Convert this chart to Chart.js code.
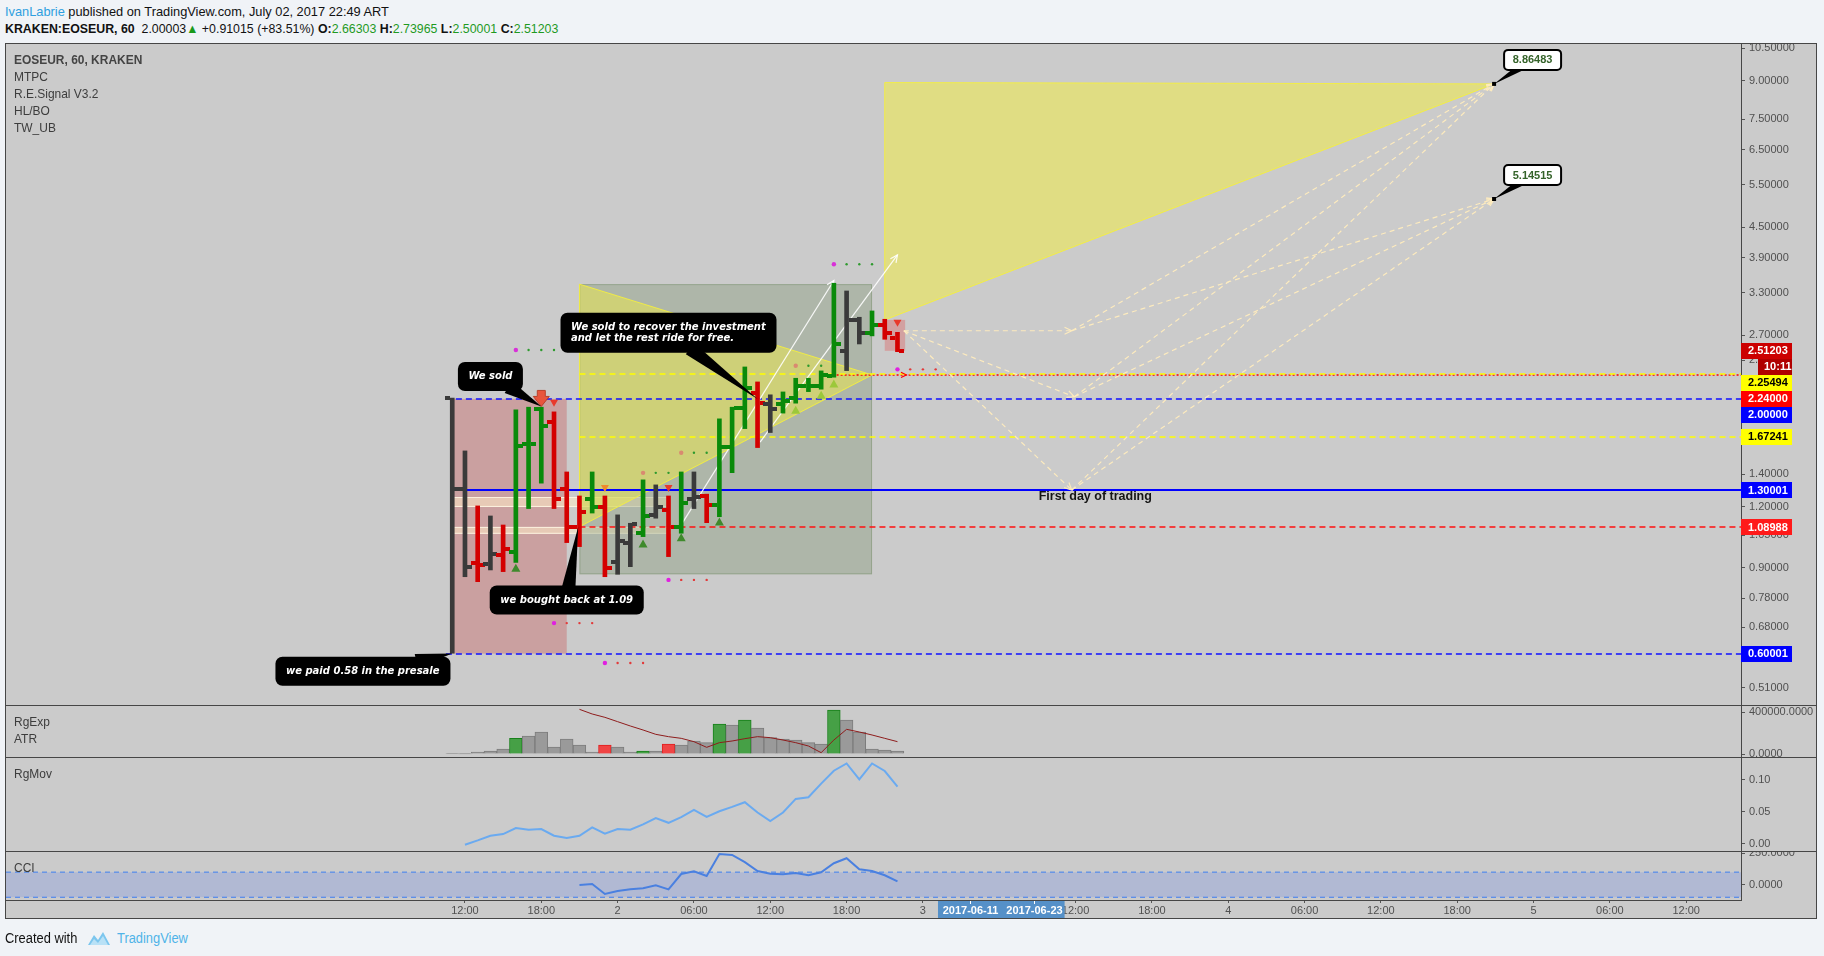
<!DOCTYPE html>
<html>
<head>
<meta charset="utf-8">
<title>KRAKEN:EOSEUR, 60</title>
<script src="https://cdn.jsdelivr.net/npm/chart.js@4.4.1/dist/chart.umd.min.js"></script>
<style>
  body { margin:0; width:1824px; height:956px; background:#f0f3f7; overflow:hidden; position:relative;
         font-family:"Liberation Sans Narrow","Liberation Sans",Arial,sans-serif; color:#111; }
  .txt { position:absolute; font-size:13px; line-height:16px; white-space:nowrap; transform-origin:0 0; }
  .g { color:#1f9a1f; }
  #frame { position:absolute; left:5px; top:43px; width:1810px; height:874px; border:1px solid #464646; background:#cbcbcb; }
  #frame canvas { position:absolute; left:0; }
  .sep { position:absolute; left:0; width:1810px; height:1px; background:#464646; }
  .lbl { position:absolute; left:8px; font-size:13px; line-height:16px; color:#3d3d3d; white-space:nowrap;
         transform:scaleX(0.92); transform-origin:0 0; }
</style>
</head>
<body>
<div class="txt" style="left:5px;top:4px;transform:scaleX(0.985)"><span style="color:#2e9fe0">IvanLabrie</span> published on TradingView.com, July 02, 2017 22:49 ART</div>
<div class="txt" style="left:5px;top:21px;transform:scaleX(0.95)"><b>KRAKEN:EOSEUR, 60</b>&nbsp; 2.00003<span style="color:#1a9a1a">&#9650;</span> +0.91015 (+83.51%) <b>O:</b><span class="g">2.66303</span> <b>H:</b><span class="g">2.73965</span> <b>L:</b><span class="g">2.50001</span> <b>C:</b><span class="g">2.51203</span></div>

<div id="frame">
  <canvas id="cMain" width="1810" height="661" style="top:0"></canvas>
  <canvas id="cExp" width="1810" height="52" style="top:661px"></canvas>
  <canvas id="cMov" width="1810" height="94" style="top:713px"></canvas>
  <canvas id="cCci" width="1810" height="67" style="top:807px"></canvas>
  <div class="sep" style="top:661px"></div>
  <div class="sep" style="top:713px"></div>
  <div class="sep" style="top:807px"></div>
  <div class="lbl" style="top:8px;font-weight:bold;color:#444">EOSEUR, 60, KRAKEN</div>
  <div class="lbl" style="top:25px">MTPC</div>
  <div class="lbl" style="top:42px">R.E.Signal V3.2</div>
  <div class="lbl" style="top:59px">HL/BO</div>
  <div class="lbl" style="top:76px">TW_UB</div>
  <div class="lbl" style="top:670px">RgExp</div>
  <div class="lbl" style="top:687px">ATR</div>
  <div class="lbl" style="top:722px">RgMov</div>
  <div class="lbl" style="top:816px">CCI</div>
</div>

<div class="txt" style="left:5px;top:930px;font-size:14px;transform:scaleX(0.92)">Created with</div>
<svg style="position:absolute;left:87px;top:930px" width="24" height="16" viewBox="0 0 24 16">
  <path d="M1 15 L7 5 L11 10 L16 2 L23 15 Z" fill="#7cc6ee"/>
  <path d="M3 15 L7 9 L11 13 L16 6 L21 15 Z" fill="#b9e1f6"/>
</svg>
<div class="txt" style="left:117px;top:930px;font-size:14px;color:#4fb3e8;transform:scaleX(0.92)">TradingView</div>

<script>
// ---- time axis (hours from 2017-07-01 00:00) ----
const X_MIN = -24.08, X_MAX = 112.31;
const xTickHours  = [12, 18, 24, 30, 36, 42, 48, 54, 60, 66, 72, 78, 84, 90, 96, 102, 108];
const xTickLabels = ['12:00','18:00','2','06:00','12:00','18:00','3','06:00','12:00','18:00','4','06:00','12:00','18:00','5','06:00','12:00'];
const dateMarkHours = [51.7, 56.7];
const dateMarkLabels = ['2017-06-11', '2017-06-23'];

// ---- hourly OHLC bars ----
const barHours = [11,12,13,14,15,16,17,18,19,20,21,22,23,24,25,26,27,28,29,30,31,32,33,34,35,36,37,38,39,40,41,42,43,44,45,46];
const opens  = [2.007,1.305,0.920,0.916,0.956,0.971,1.617,1.905,1.797,1.305,1.093,1.245,1.199,0.927,1.014,1.063,1.156,1.184,1.093,1.245,1.264,1.212,1.592,1.914,2.055,1.953,1.953,2.013,2.130,2.130,2.233,2.512,2.905,2.728,2.837,2.66303];
const highs  = [2.007,1.564,1.206,1.150,1.102,1.899,1.923,1.923,1.881,1.416,1.264,1.416,1.264,1.156,1.111,1.364,1.332,1.264,1.416,1.416,1.275,1.820,1.923,2.326,2.167,2.039,2.067,2.205,2.205,2.283,3.455,3.331,2.942,3.031,2.914,2.73965];
const lows   = [0.601,0.863,0.843,0.891,0.884,0.923,1.191,1.343,1.191,1.014,0.995,1.166,0.863,0.873,0.905,1.043,1.138,0.949,1.060,1.191,1.114,1.146,1.411,1.738,1.589,1.706,1.870,1.960,2.070,2.094,2.216,2.286,2.593,2.694,2.651,2.50001];
const closes = [1.305,0.903,0.910,0.959,0.983,1.604,1.617,1.760,1.245,1.093,1.174,1.199,0.899,1.023,1.106,1.152,1.202,1.090,1.225,1.257,1.212,1.592,1.914,2.110,1.966,1.910,1.979,2.130,2.130,2.240,2.589,2.905,2.728,2.837,2.736,2.51203];
const barSignal = ['n','n','d','n','d','u','u','u','d','d','d','u','d','n','n','u','n','d','u','n','d','u','u','u','d','n','u','u','u','u','u','n','n','u','d','d'];

// ---- price axis ----
const yTickValues = [10.5, 9, 7.5, 6.5, 5.5, 4.5, 3.9, 3.3, 2.7, 2.4, 2.1, 1.85, 1.65, 1.4, 1.2, 1.05, 0.9, 0.78, 0.68, 0.6, 0.51];
const yTickLabels = ['10.50000','9.00000','7.50000','6.50000','5.50000','4.50000','3.90000','3.30000','2.70000','2.40000','2.10000','1.85000','1.65000','1.40000','1.20000','1.05000','0.90000','0.78000','0.68000','0.60000','0.51000'];
const levelValues = [2.24, 2.25494, 2.0, 1.67241, 1.30001, 1.08988, 0.60001];
const levelStart  = [40.9, 21, 10.5, 21, 11, 21, 10.5];
const levelKind   = ['redDot', 'yellow', 'blue', 'yellow', 'blueSolid', 'red', 'blue'];
const lastPrice = 2.51203;
const countdown = '10:11';

// ---- drawings (hour, price) ----
const presaleZone = [11, 20, 0.60001, 2.0];
const rangeBands = [[11, 27.9, 1.200, 1.258], [11, 28.2, 1.057, 1.092]];
const channelBox = [21, 44, 0.873, 3.44];
const wedgeSmall = [[21, 3.44], [21, 1.093], [44, 2.24]];
const wedgeBig = [[45, 8.92], [45, 2.905], [92.9, 8.86483]];
const lastZone = [45, 46.6, 2.51, 2.905];
const whiteArrows = [[[28.9, 1.092], [41, 3.50]], [[35.2, 1.63], [46, 3.95]]];
const projStart = [46.5, 2.76];
const projMid = [[59.7, 2.76], [59.9, 2.02], [59.7, 1.30]];
const targetHour = 92.9;
const targetValues = [8.86483, 5.14515];
const firstDay = ['First day of trading', 57.1, 1.258];

const sellArrow = [18, 1.93];
const sellMarks = [[19, 1.96], [28, 1.31], [46, 2.86]];
const warnMarks = [[23, 1.31]];
const buyMarks = [[16, 0.90], [26, 1.01], [29, 1.04], [32, 1.12]];
const weakBuyMarks = [[38, 1.90], [40, 2.04], [41, 2.15]];
const pivotUp = [[16, 2.52], [41, 3.78]];
const pivotDown = [[19, 0.693], [23, 0.574], [28, 0.85], [46, 2.30]];
const pivotMid = [[26, 1.41], [29, 1.55], [38, 2.34]];

const notes = [
  { lines: ['We sold'], at: [14.0, 2.224], to: [18, 1.93] },
  { lines: ['We sold to recover the investment', 'and let the rest ride for free.'], at: [28.0, 2.735], to: [35, 2.0] },
  { lines: ['we bought back at 1.09'], at: [20.0, 0.773], to: [20.9, 1.092] },
  { lines: ['we paid 0.58 in the presale'], at: [3.98, 0.552], to: [11, 0.60] }
];

// ---- lower panes ----
const expValues = [2000,1500,19000,28600,47600,149000,171000,209500,66700,142900,85700,19000,85700,66700,19000,28600,28600,95200,85700,123800,108000,285700,276200,323800,247600,155600,142900,133300,108000,95200,419000,323800,209500,47600,38100,28600];
const expSignal = ['n','n','n','n','n','u','n','n','n','n','n','n','d','n','n','u','n','d','n','n','n','u','n','u','n','n','n','n','n','n','u','n','n','n','n','n'];
const atrValues = [425400,381000,349200,308000,266700,228600,187300,165100,149200,117500,63500,108000,123800,146000,165100,155600,133300,108000,76200,12700,133300,235000,209500,181000,149200,117500];
const movValues = [-0.0016,0.0052,0.0125,0.0151,0.0245,0.0219,0.0229,0.0125,0.0089,0.0125,0.0255,0.0156,0.0229,0.0219,0.0302,0.0401,0.0328,0.0417,0.0531,0.0422,0.0510,0.0578,0.0651,0.0490,0.0354,0.0490,0.0703,0.0729,0.0943,0.1146,0.1260,0.1010,0.1260,0.1141,0.0896];
const cciValues = [-2,6,-74,-50,-37,-29,-5,-37,85,107,69,245,237,179,109,88,83,93,75,99,171,211,123,109,75,27];
const cciBand = [100, -100];

const AXIS_W = 75;
const SIG = { u: '#0a8a0a', d: '#d40000', n: '#3a3a3a' };

Chart.defaults.font.family = '"Liberation Sans", Arial, sans-serif';
Chart.defaults.font.size = 11;
Chart.defaults.color = '#505050';
Chart.defaults.animation = false;

function rightAxis(min, max, values, labels, extra) {
  return Object.assign({
    position: 'right', min: min, max: max,
    afterFit(s) { s.width = AXIS_W; s.paddingTop = 0; s.paddingBottom = 0; },
    afterBuildTicks(s) { s.ticks = values.map(v => ({ value: v })); },
    grid: { drawOnChartArea: false, drawTicks: true, tickLength: 4, tickColor: '#555' },
    border: { display: true, color: '#464646' },
    ticks: { autoSkip: false, padding: 4, color: '#505050', font: { size: 11 }, callback: (v, i) => labels[i] }
  }, extra || {});
}
function hiddenX() {
  return { type: 'linear', min: X_MIN, max: X_MAX, display: false, offset: false };
}
function baseOptions(scales) {
  return {
    responsive: false, maintainAspectRatio: false, devicePixelRatio: 1,
    layout: { padding: 0 },
    plugins: { legend: { display: false }, tooltip: { enabled: false } },
    scales: scales
  };
}

function arrowHead(ctx, x0, y0, x1, y1, size) {
  const a = Math.atan2(y1 - y0, x1 - x0);
  ctx.beginPath();
  ctx.moveTo(x1 - size * Math.cos(a - 0.45), y1 - size * Math.sin(a - 0.45));
  ctx.lineTo(x1, y1);
  ctx.lineTo(x1 - size * Math.cos(a + 0.45), y1 - size * Math.sin(a + 0.45));
  ctx.stroke();
}
function roundRect(ctx, x, y, w, h, r) {
  ctx.beginPath();
  ctx.moveTo(x + r, y);
  ctx.arcTo(x + w, y, x + w, y + h, r);
  ctx.arcTo(x + w, y + h, x, y + h, r);
  ctx.arcTo(x, y + h, x, y, r);
  ctx.arcTo(x, y, x + w, y, r);
  ctx.closePath();
}
function pointer(ctx, cx, cy, w, h, tx, ty, half) {
  const dx = tx - cx, dy = ty - cy;
  const s = Math.min((w / 2 - 4) / Math.max(Math.abs(dx), 1e-6), (h / 2 - 4) / Math.max(Math.abs(dy), 1e-6));
  const bx = cx + dx * s, by = cy + dy * s;
  const len = Math.hypot(dx, dy), nx = -dy / len, ny = dx / len;
  ctx.beginPath();
  ctx.moveTo(bx + nx * half, by + ny * half);
  ctx.lineTo(bx - nx * half, by - ny * half);
  ctx.lineTo(tx, ty);
  ctx.closePath();
  ctx.fill();
}

const priceDrawings = {
  id: 'priceDrawings',
  beforeDatasetsDraw(chart) {
    const { ctx, chartArea: a, scales: { x, y } } = chart;
    const X = h => x.getPixelForValue(h), Y = p => y.getPixelForValue(p);
    ctx.save();
    ctx.beginPath(); ctx.rect(a.left, a.top, a.width, a.height); ctx.clip();
    const box = (r, fill, stroke) => {
      const x0 = X(r[0]), x1 = X(r[1]), y0 = Y(r[3]), y1 = Y(r[2]);
      ctx.fillStyle = fill; ctx.fillRect(x0, y0, x1 - x0, y1 - y0);
      if (stroke) { ctx.strokeStyle = stroke; ctx.lineWidth = 1; ctx.strokeRect(x0 + 0.5, y0 + 0.5, x1 - x0 - 1, y1 - y0 - 1); }
    };
    const tri = (pts, fill, stroke) => {
      ctx.beginPath();
      pts.forEach((p, i) => i ? ctx.lineTo(X(p[0]), Y(p[1])) : ctx.moveTo(X(p[0]), Y(p[1])));
      ctx.closePath();
      ctx.fillStyle = fill; ctx.fill();
      ctx.strokeStyle = stroke; ctx.lineWidth = 1; ctx.stroke();
    };
    box(presaleZone, 'rgba(200,90,90,0.38)');
    rangeBands.forEach(b => box(b, 'rgba(255,236,200,0.55)', 'rgba(255,248,230,0.85)'));
    box(channelBox, 'rgba(110,136,93,0.30)', 'rgba(130,150,120,0.6)');
    tri(wedgeSmall, 'rgba(245,240,60,0.45)', 'rgba(245,240,60,0.9)');
    tri(wedgeBig, 'rgba(245,240,60,0.5)', 'rgba(245,240,60,0.9)');
    box(lastZone, 'rgba(220,110,110,0.45)');

    // horizontal levels
    const kinds = {
      redDot: ['#ff0000', [2, 2], 1.5], yellow: ['#ffff00', [6, 4], 1.5], blue: ['#1010ff', [6, 4], 1.5],
      blueSolid: ['#0000ff', [], 2], red: ['#ff1010', [6, 4], 1.5]
    };
    levelValues.forEach((v, i) => {
      const k = kinds[levelKind[i]];
      const yy = Math.round(Y(v));
      ctx.strokeStyle = k[0]; ctx.setLineDash(k[1]); ctx.lineWidth = k[2];
      ctx.beginPath(); ctx.moveTo(X(levelStart[i]), yy); ctx.lineTo(a.right, yy); ctx.stroke();
    });
    ctx.setLineDash([]);
    ctx.strokeStyle = '#ff0000'; ctx.lineWidth = 1.2;
    arrowHead(ctx, X(45), Y(2.24), X(46.7), Y(2.24), 6);

    // projection paths
    ctx.strokeStyle = 'rgba(255,236,190,0.95)'; ctx.lineWidth = 1.2;
    const seg = (p, q, head) => {
      ctx.setLineDash([5, 4]);
      ctx.beginPath(); ctx.moveTo(X(p[0]), Y(p[1])); ctx.lineTo(X(q[0]), Y(q[1])); ctx.stroke();
      if (head) { ctx.setLineDash([]); arrowHead(ctx, X(p[0]), Y(p[1]), X(q[0]), Y(q[1]), 8); }
    };
    projMid.forEach(m => {
      seg(projStart, m, true);
      targetValues.forEach(t => seg(m, [targetHour, t], true));
    });
    ctx.setLineDash([]);

    // white trend arrows
    ctx.strokeStyle = 'rgba(255,255,255,0.9)'; ctx.lineWidth = 1.2;
    whiteArrows.forEach(w => {
      ctx.beginPath(); ctx.moveTo(X(w[0][0]), Y(w[0][1])); ctx.lineTo(X(w[1][0]), Y(w[1][1])); ctx.stroke();
      arrowHead(ctx, X(w[0][0]), Y(w[0][1]), X(w[1][0]), Y(w[1][1]), 8);
    });
    ctx.restore();
  },
  afterDatasetsDraw(chart) {
    const { ctx, chartArea: a, scales: { x, y } } = chart;
    const X = h => x.getPixelForValue(h), Y = p => y.getPixelForValue(p);
    ctx.save();
    ctx.beginPath(); ctx.rect(a.left, a.top, a.width, a.height); ctx.clip();

    // open / close ticks
    barHours.forEach((h, i) => {
      const cx = Math.round(X(h));
      ctx.fillStyle = SIG[barSignal[i]];
      ctx.fillRect(cx - 7, Math.round(Y(opens[i])) - 2, 5, 4);
      ctx.fillRect(cx + 2, Math.round(Y(closes[i])) - 2, 5, 4);
    });

    // signal markers
    const triangle = (h, p, up, fill, w, hh) => {
      const cx = X(h), cy = Y(p);
      ctx.beginPath();
      if (up) { ctx.moveTo(cx, cy - hh / 2); ctx.lineTo(cx + w / 2, cy + hh / 2); ctx.lineTo(cx - w / 2, cy + hh / 2); }
      else { ctx.moveTo(cx, cy + hh / 2); ctx.lineTo(cx + w / 2, cy - hh / 2); ctx.lineTo(cx - w / 2, cy - hh / 2); }
      ctx.closePath(); ctx.fillStyle = fill; ctx.fill();
    };
    buyMarks.forEach(m => triangle(m[0], m[1], true, '#3f8a2c', 9, 8));
    weakBuyMarks.forEach(m => triangle(m[0], m[1], true, '#9cc83a', 9, 8));
    sellMarks.forEach(m => triangle(m[0], m[1], false, '#e8392b', 8, 7));
    warnMarks.forEach(m => triangle(m[0], m[1], false, '#f08a2c', 8, 7));
    {
      const cx = X(sellArrow[0]), ty = Y(sellArrow[1]);
      ctx.fillStyle = '#e8553d'; ctx.strokeStyle = '#b8402c'; ctx.lineWidth = 1;
      ctx.beginPath();
      ctx.moveTo(cx - 4, ty - 16); ctx.lineTo(cx + 4, ty - 16); ctx.lineTo(cx + 4, ty - 10);
      ctx.lineTo(cx + 8, ty - 10); ctx.lineTo(cx, ty); ctx.lineTo(cx - 8, ty - 10); ctx.lineTo(cx - 4, ty - 10);
      ctx.closePath(); ctx.fill(); ctx.stroke();
    }
    const dots = (list, lead, tail, n) => list.forEach(d => {
      ctx.fillStyle = lead; ctx.beginPath(); ctx.arc(X(d[0]), Y(d[1]), 2.2, 0, Math.PI * 2); ctx.fill();
      ctx.fillStyle = tail;
      for (let k = 1; k <= n; k++) { ctx.beginPath(); ctx.arc(X(d[0] + k), Y(d[1]), 1.2, 0, Math.PI * 2); ctx.fill(); }
    });
    dots(pivotUp, '#d830d8', '#2e9a2e', 3);
    dots(pivotDown, '#e020e0', '#e23a3a', 3);
    dots(pivotMid, '#d98a70', '#2e9a2e', 2);

    // black notes
    ctx.font = 'italic bold 10px "DejaVu Sans", Verdana, sans-serif';
    notes.forEach(n => {
      const tw = Math.max(...n.lines.map(t => ctx.measureText(t).width));
      const w = Math.round(tw + 21), h = n.lines.length > 1 ? 40 : 29;
      const cx = X(n.at[0]), cy = Y(n.at[1]);
      ctx.fillStyle = '#000';
      pointer(ctx, cx, cy, w, h, X(n.to[0]), Y(n.to[1]), 7);
      roundRect(ctx, cx - w / 2, cy - h / 2, w, h, 7); ctx.fill();
      ctx.fillStyle = '#fff'; ctx.textBaseline = 'middle'; ctx.textAlign = 'left';
      n.lines.forEach((t, i) => ctx.fillText(t, cx - w / 2 + 10.5, cy + (i - (n.lines.length - 1) / 2) * 10.5));
    });

    // target balloons
    targetValues.forEach(v => {
      const tx = X(targetHour), ty = Y(v);
      const cx = tx + 38.5, cy = ty - 24, w = 57, h = 20;
      ctx.fillStyle = '#000';
      pointer(ctx, cx, cy, w, h, tx, ty, 4);
      ctx.fillRect(tx - 2, ty - 2, 4, 4);
      roundRect(ctx, cx - w / 2, cy - h / 2, w, h, 4);
      ctx.fillStyle = '#fff'; ctx.fill();
      ctx.lineWidth = 2; ctx.strokeStyle = '#000'; ctx.stroke();
      ctx.fillStyle = '#35632a'; ctx.font = 'bold 11px "Liberation Sans", Arial, sans-serif';
      ctx.textAlign = 'center'; ctx.textBaseline = 'middle';
      ctx.fillText(v.toFixed(5), cx, cy + 0.5);
    });

    ctx.fillStyle = '#151515'; ctx.font = 'bold 12.5px "Liberation Sans", Arial, sans-serif';
    ctx.textAlign = 'left'; ctx.textBaseline = 'middle';
    ctx.fillText(firstDay[0], X(firstDay[1]), Y(firstDay[2]));
    ctx.restore();
  },
  afterDraw(chart) {
    const { ctx, chartArea: a, scales: { y } } = chart;
    const items = [
      { v: lastPrice, t: lastPrice.toFixed(5), bg: '#cc0000', fg: '#fff' },
      { v: null, t: countdown, bg: '#b00000', fg: '#fff', short: true }
    ];
    const bgs = { redDot: '#ff0000', yellow: '#ffff00', blue: '#0000ff', blueSolid: '#0000ff', red: '#ff1a1a' };
    levelValues.forEach((v, i) => items.push({ v: v, t: v.toFixed(5), bg: bgs[levelKind[i]], fg: levelKind[i] === 'yellow' ? '#000' : '#fff' }));
    items.forEach(it => { it.want = it.v === null ? y.getPixelForValue(lastPrice) + 16 : y.getPixelForValue(it.v); });
    items.sort((p, q) => p.want - q.want);
    let prev = -1e9;
    ctx.save();
    ctx.font = 'bold 11px "Liberation Sans", Arial, sans-serif';
    ctx.textBaseline = 'middle'; ctx.textAlign = 'left';
    items.forEach(it => {
      const yy = Math.max(it.want, prev + 16);
      prev = yy;
      const x0 = a.right + (it.short ? 17 : 0), x1 = a.right + 51;
      ctx.fillStyle = it.bg; ctx.fillRect(x0, Math.round(yy - 8), x1 - x0, 16);
      ctx.fillStyle = it.fg; ctx.fillText(it.t, x0 + (it.short ? 6 : 7), yy + 0.5);
    });
    ctx.restore();
  }
};

// ---- price pane ----
new Chart(document.getElementById('cMain'), {
  type: 'bar',
  data: {
    datasets: [{
      data: barHours.map((h, i) => ({ x: h, y: [lows[i], highs[i]] })),
      backgroundColor: barSignal.map(s => SIG[s]),
      barThickness: 4
    }]
  },
  options: baseOptions({
    x: hiddenX(),
    y: rightAxis(0.4706, 10.705, yTickValues, yTickLabels, { type: 'logarithmic' })
  }),
  plugins: [priceDrawings]
});

// ---- RgExp / ATR pane ----
new Chart(document.getElementById('cExp'), {
  type: 'bar',
  data: {
    datasets: [{
      type: 'line',
      data: barHours.slice(10).map((h, i) => ({ x: h, y: atrValues[i] })),
      borderColor: '#8e1c1c', borderWidth: 1, pointRadius: 0, tension: 0
    }, {
      data: barHours.map((h, i) => ({ x: h, y: expValues[i] })),
      backgroundColor: expSignal.map(s => s === 'u' ? '#46a046' : s === 'd' ? '#f04444' : '#9a9a9a'),
      borderColor: expSignal.map(s => s === 'u' ? '#17801a' : s === 'd' ? '#e01e1e' : '#7c7c7c'),
      borderWidth: 1, barPercentage: 1, categoryPercentage: 1
    }]
  },
  options: baseOptions({
    x: hiddenX(),
    y: rightAxis(-28571, 466667, [0, 400000], ['0.0000', '400000.0000'])
  })
});

// ---- RgMov pane ----
new Chart(document.getElementById('cMov'), {
  type: 'line',
  data: {
    datasets: [{
      data: barHours.slice(1).map((h, i) => ({ x: h, y: movValues[i] })),
      borderColor: '#6aaaf0', borderWidth: 2, pointRadius: 0, tension: 0
    }]
  },
  options: baseOptions({
    x: hiddenX(),
    y: rightAxis(-0.01146, 0.1361, [0, 0.05, 0.10], ['0.00', '0.05', '0.10'])
  })
});

// ---- CCI pane with the time axis ----
const dateMarks = {
  id: 'dateMarks',
  afterDraw(chart) {
    const { ctx, chartArea: a, scales: { x } } = chart;
    const x0 = x.getPixelForValue(dateMarkHours[0]) - 32, x1 = x.getPixelForValue(dateMarkHours[1]) + 31;
    ctx.save();
    ctx.fillStyle = '#5590c8';
    ctx.fillRect(x0, a.bottom + 1, x1 - x0, 19);
    ctx.fillStyle = '#fff'; ctx.strokeStyle = '#fff'; ctx.lineWidth = 1;
    ctx.font = 'bold 11px "Liberation Sans", Arial, sans-serif';
    ctx.textAlign = 'center'; ctx.textBaseline = 'middle';
    dateMarkHours.forEach((h, i) => {
      const px = Math.round(x.getPixelForValue(h)) + 0.5;
      ctx.beginPath(); ctx.moveTo(px, a.bottom + 1); ctx.lineTo(px, a.bottom + 4); ctx.stroke();
      ctx.fillText(dateMarkLabels[i], px, a.bottom + 10.5);
    });
    ctx.restore();
  }
};
new Chart(document.getElementById('cCci'), {
  type: 'line',
  data: {
    datasets: [{
      data: barHours.slice(10).map((h, i) => ({ x: h, y: cciValues[i] })),
      borderColor: '#4a80e0', borderWidth: 2, pointRadius: 0, tension: 0
    }, {
      data: [{ x: X_MIN, y: cciBand[0] }, { x: X_MAX, y: cciBand[0] }],
      borderColor: '#3c7ef0', borderWidth: 1, borderDash: [5, 4], pointRadius: 0,
      fill: '+1', backgroundColor: 'rgba(50,100,255,0.165)'
    }, {
      data: [{ x: X_MIN, y: cciBand[1] }, { x: X_MAX, y: cciBand[1] }],
      borderColor: '#3c7ef0', borderWidth: 1, borderDash: [5, 4], pointRadius: 0, fill: false
    }]
  },
  options: baseOptions({
    x: {
      type: 'linear', min: X_MIN, max: X_MAX, position: 'bottom', offset: false,
      afterFit(s) { s.height = 18; s.paddingLeft = 0; s.paddingRight = 0; },
      afterBuildTicks(s) { s.ticks = xTickHours.map(v => ({ value: v })); },
      grid: { drawOnChartArea: false, drawTicks: true, tickLength: 3, tickColor: '#555' },
      border: { display: true, color: '#464646' },
      ticks: { autoSkip: false, maxRotation: 0, padding: 1, color: '#505050', font: { size: 11 }, callback: (v, i) => xTickLabels[i] }
    },
    y: rightAxis(-121.8, 268.3, [0, 250], ['0.0000', '250.0000'])
  }),
  plugins: [dateMarks]
});
</script>
</body>
</html>
